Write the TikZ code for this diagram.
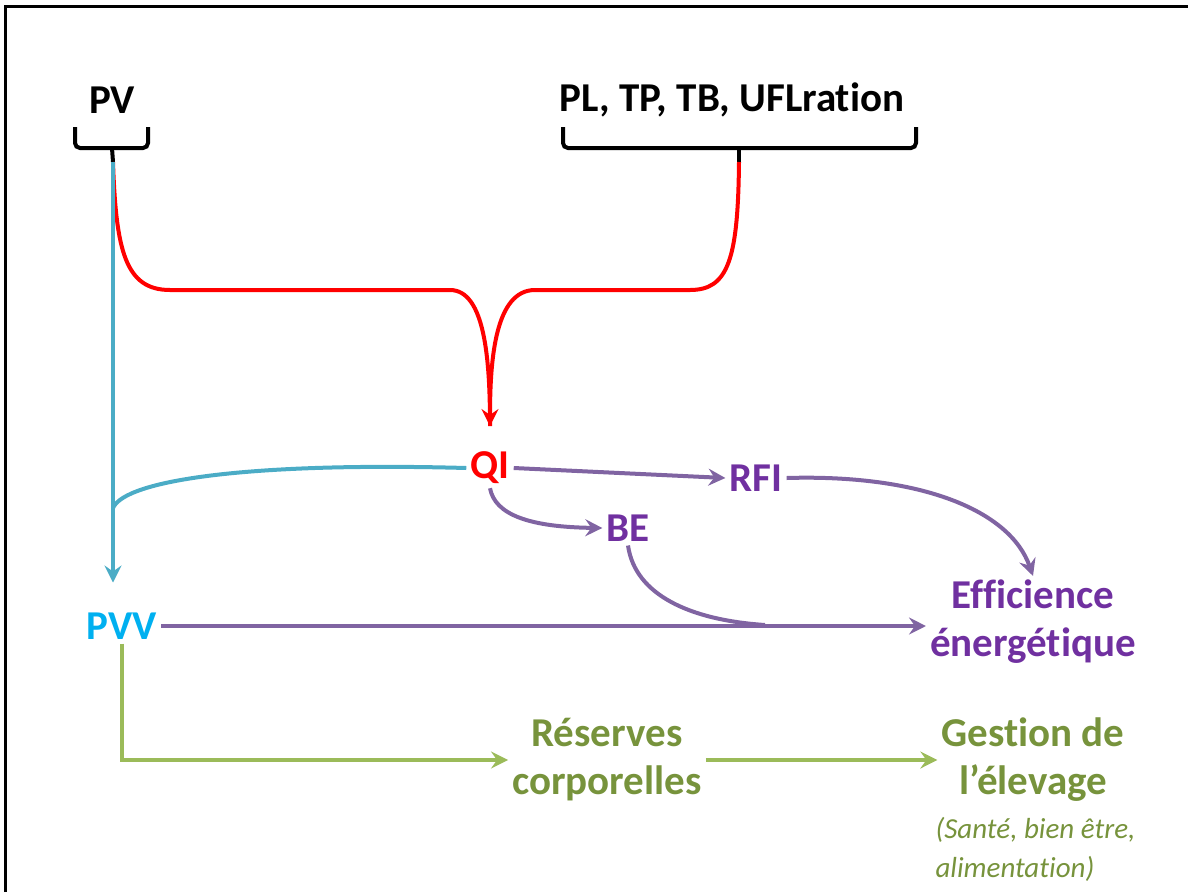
\documentclass[tikz,border=0pt]{standalone}
\usepackage{fontspec}
\setmainfont{Carlito}[Ligatures=NoCommon]
\usetikzlibrary{arrows.meta}
\definecolor{qired}{RGB}{255,0,0}
\definecolor{pvblue}{RGB}{75,172,198}
\definecolor{pvvcyan}{RGB}{0,176,240}
\definecolor{effviolet}{RGB}{112,48,160}
\definecolor{flowviolet}{RGB}{128,100,162}
\definecolor{resgreen}{RGB}{119,147,60}
\definecolor{flowgreen}{RGB}{155,187,89}
\tikzset{
  lbl/.style={font=\fontsize{41}{48}\selectfont\bfseries, inner sep=4pt, align=center},
  brace/.style={draw=black, line width=4pt, rounded corners=5pt},
  redline/.style={draw=qired, line width=4pt},
  blueline/.style={draw=pvblue, line width=4pt},
  violetline/.style={draw=flowviolet, line width=4pt},
  greenline/.style={draw=flowgreen, line width=4pt},
  tip/.style={-{Stealth[length=17pt,width=17pt,inset=6pt]}}
}
\begin{document}
\begin{tikzpicture}[x=1pt,y=-1pt]
			\useasboundingbox (0,0) rectangle (1188,892);
			\draw[line width=3pt] (5,892) -- (5,6) -- (1188,6);
			\node[lbl] (pv) at (112,100) {PV};
			\node[lbl] (inp) at (732,100) {PL, TP, TB, UFLration};
			\node[lbl,text=qired] (qi) at (490,468) {QI};
			\node[lbl,text=effviolet] (rfi) at (756,478) {RFI};
			\node[lbl,text=effviolet] (be) at (628,528) {BE};
			\node[lbl,text=pvvcyan] (pvv) at (122,626) {PVV};
			\node[lbl,text=effviolet] (eff) at (1033,622) {Efficience\\énergétique};
			\node[lbl,text=resgreen] (res) at (607,760) {Réserves\\corporelles};
			\node[lbl,text=resgreen] (ges) at (1033,760) {Gestion de\\l’élevage};
			\node[text=resgreen, font=\fontsize{29}{39}\selectfont\itshape, align=left, anchor=north west] (note) at (932,814) {(Santé, bien être,\\alimentation)};
			\coordinate (pvtip) at (113,162);
			\coordinate (inptip) at (739,162);
			\coordinate (qitop) at (490,426);
			\coordinate (pvjoin) at (113,508);
			\coordinate (bejoin) at (765,625);
			\draw[brace] (75,127) -- (75,148) -- (148,148) -- (148,127);
			\draw[line width=4pt] (112,148) -- (pvtip);
			\draw[brace] (563,127) -- (563,148) -- (916,148) -- (916,127);
			\draw[line width=4pt] (739,148) -- (inptip);
			\draw[redline] (pvtip) .. controls (116,250) and (125,290) .. (170,290) -- (450,290) .. controls (485,290) and (490,360) .. (qitop);
			\draw[redline,tip] (inptip) .. controls (738,260) and (728,290) .. (690,290) -- (535,290) .. controls (495,290) and (490,360) .. (qitop);
			\draw[blueline,tip] (pvtip) -- ([yshift=26pt]pvtip |- pvv.north);
			\draw[blueline] (qi.west) .. controls (250,462) and (125,480) .. (pvjoin);
			\draw[violetline,tip] (qi.east) -- (rfi.west);
			\draw[violetline,tip] (qi.south) .. controls (495,515) and (530,527) .. (be.west);
			\draw[violetline] (be.south) .. controls (635,595) and (690,620) .. (bejoin);
			\draw[violetline,tip] (pvv.east) -- (pvv.east -| eff.west);
			\draw[violetline,tip] (rfi.east) .. controls (920,474) and (1010,510) .. (eff.north);
			\draw[greenline,tip] (pvv.south) |- (res.west);
			\draw[greenline,tip] (res.east) -- (ges.west);
		\end{tikzpicture}
\end{document}
